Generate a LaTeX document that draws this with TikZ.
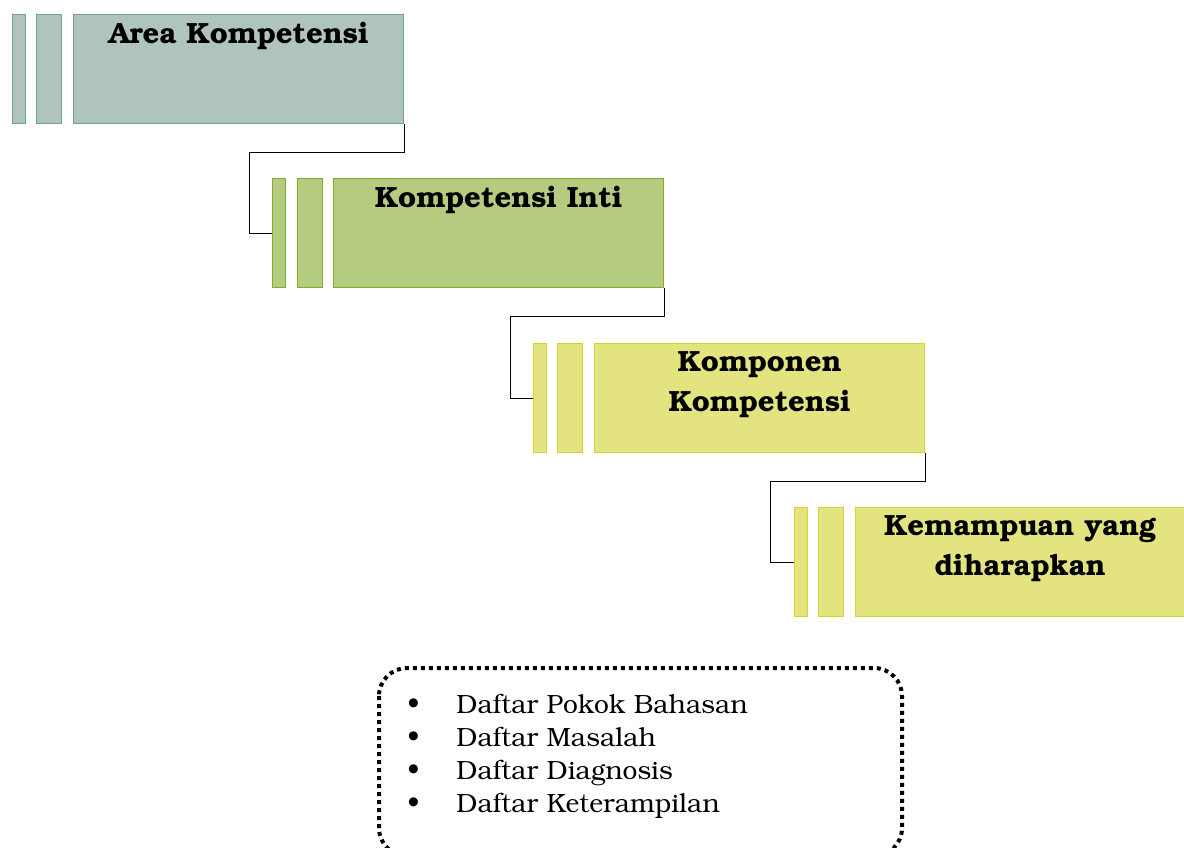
\documentclass[tikz,border=0pt]{standalone}
\usepackage[T1]{fontenc}
\usepackage{bookman}
\usepackage{xcolor}
\usetikzlibrary{positioning,calc}

\definecolor{grayfill}{HTML}{AFC4BD}\definecolor{grayline}{HTML}{79A08F}
\definecolor{greenfill}{HTML}{B5CB80}\definecolor{greenline}{HTML}{7FAF2A}
\definecolor{yelfill}{HTML}{E3E37F}\definecolor{yelline}{HTML}{D4D42A}

\begin{document}
\begin{tikzpicture}[
  x=0.5pt, y=-0.5pt,
  bar/.style={draw, line width=0.6pt, inner sep=0pt, anchor=north west, minimum height=54.5pt},
  thin/.style={bar, minimum width=6.5pt},
  wide/.style={bar, minimum width=12.5pt},
  main/.style={bar, minimum width=165pt},
  title/.style={anchor=north, align=center, inner sep=0pt, font=\fontsize{14.6}{20}\selectfont\bfseries},
  link/.style={draw=black, line width=0.5pt},
  listbox/.style={draw, line width=2pt, dotted, rounded corners=14pt},
]
\useasboundingbox (0,0) rectangle (1184,847);
% area kompetensi
\node[thin, draw=grayline, fill=grayfill] (areaA) at (12,14) {};
\node[wide, draw=grayline, fill=grayfill] (areaB) at (36,14) {};
\node[main, draw=grayline, fill=grayfill] (area) at (73,14) {};
\node[title] (areaT) at ($(area.north)+(0,8)$) {Area Kompetensi};
% kompetensi inti
\node[thin, draw=greenline, fill=greenfill] (intiA) at (272,178) {};
\node[wide, draw=greenline, fill=greenfill] (intiB) at (297,178) {};
\node[main, draw=greenline, fill=greenfill] (inti) at (333,178) {};
\node[title] (intiT) at ($(inti.north)+(0,8)$) {Kompetensi Inti};
% komponen kompetensi
\node[thin, draw=yelline, fill=yelfill] (kompA) at (533,343) {};
\node[wide, draw=yelline, fill=yelfill] (kompB) at (557,343) {};
\node[main, draw=yelline, fill=yelfill] (komp) at (594,343) {};
\node[title] (kompT) at ($(komp.north)+(0,8)$) {Komponen\\Kompetensi};
% kemampuan yang diharapkan
\node[thin, draw=yelline, fill=yelfill] (kemA) at (794,507) {};
\node[wide, draw=yelline, fill=yelfill] (kemB) at (818,507) {};
\node[main, draw=yelline, fill=yelfill, minimum width=164.5pt] (kem) at (855,507) {};
\node[title] (kemT) at ($(kem.north)+(0,8)$) {Kemampuan yang\\diharapkan};
% connectors
\draw[link] (area.south east) -- ++(0,28) -| ($(intiA.west)+(-23,0)$) -- (intiA.west);
\draw[link] (inti.south east) -- ++(0,28) -| ($(kompA.west)+(-23,0)$) -- (kompA.west);
\draw[link] (komp.south east) -- ++(0,28) -| ($(kemA.west)+(-24,0)$) -- (kemA.west);
% list
\draw[listbox] (379,668) rectangle (902,856);
\node[anchor=north west, align=left, inner sep=0pt, font=\fontsize{13.2}{16.5}\selectfont] (list) at (407,694)
  {\makebox[24.5pt][l]{\textbullet}Daftar Pokok Bahasan\\
   \makebox[24.5pt][l]{\textbullet}Daftar Masalah\\
   \makebox[24.5pt][l]{\textbullet}Daftar Diagnosis\\
   \makebox[24.5pt][l]{\textbullet}Daftar Keterampilan};
\end{tikzpicture}
\end{document}
